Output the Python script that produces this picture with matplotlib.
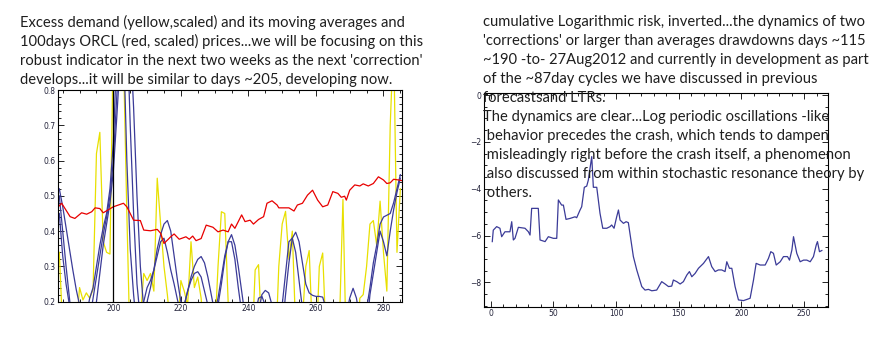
import numpy as np
import matplotlib
matplotlib.use('Agg')
import matplotlib.pyplot as plt
from matplotlib.ticker import MultipleLocator

# ---------------------------------------------------------------------------
# data
# ---------------------------------------------------------------------------

days = np.arange(184, 286)

# excess demand (yellow, scaled); values outside 0.2..0.8 are clipped in the plot
excess_demand = [
    0.34, 0.12, 0.05, 0.05, 0.05, 0.12, 0.24, 0.205, 0.225, 0.21,
    0.235, 0.62, 0.68, 0.37, 0.34, 0.335, 0.95, 0.95, 0.95, 0.90,
    0.45, 0.05, 0.05, 0.05, 0.15, 0.28, 0.26, 0.28, 0.23, 0.55,
    0.42, 0.30, 0.22, 0.12, 0.05, 0.10, 0.26, 0.23, 0.19, 0.37,
    0.24, 0.27, 0.21, 0.08, 0.05, 0.05, 0.10, 0.30, 0.455, 0.45,
    0.20, 0.05, 0.05, 0.05, 0.05, 0.05, 0.05, 0.05, 0.29, 0.305,
    0.10, 0.05, 0.05, 0.05, 0.05, 0.30, 0.42, 0.456, 0.32, 0.40,
    0.12, 0.05, 0.15, 0.30, 0.345, 0.10, 0.05, 0.30, 0.338, 0.10,
    0.05, 0.05, 0.05, 0.15, 0.49, 0.05, 0.05, 0.05, 0.05, 0.21,
    0.22, 0.30, 0.42, 0.43, 0.36, 0.485, 0.34, 0.23, 0.70, 0.95,
    0.34, 0.52,
]

# moving averages (blue)
ma_short = [
    0.45, 0.33, 0.25, 0.19, 0.12, 0.08, 0.08, 0.10, 0.16, 0.21,
    0.24, 0.30, 0.36, 0.41, 0.45, 0.52, 0.65, 0.90, 1.05, 0.95,
    0.60, 0.35, 0.22, 0.12, 0.12, 0.20, 0.24, 0.26, 0.29, 0.33,
    0.37, 0.38, 0.34, 0.29, 0.25, 0.205, 0.17, 0.19, 0.23, 0.26,
    0.28, 0.285, 0.27, 0.23, 0.19, 0.15, 0.17, 0.21, 0.27, 0.33,
    0.37, 0.37, 0.32, 0.24, 0.17, 0.12, 0.10, 0.12, 0.16, 0.21,
    0.215, 0.19, 0.14, 0.10, 0.08, 0.12, 0.19, 0.28, 0.37, 0.38,
    0.34, 0.26, 0.18, 0.12, 0.08, 0.06, 0.05, 0.05, 0.06, 0.08,
    0.10, 0.10, 0.09, 0.10, 0.12, 0.16, 0.21, 0.238, 0.21, 0.15,
    0.09, 0.12, 0.22, 0.28, 0.34, 0.40, 0.37, 0.33, 0.40, 0.46,
    0.51, 0.55,
]
ma_long = [
    0.52, 0.47, 0.41, 0.35, 0.29, 0.235, 0.19, 0.12, 0.10, 0.15,
    0.21, 0.27, 0.33, 0.39, 0.44, 0.50, 0.60, 0.78, 0.95, 1.05,
    1.00, 0.70, 0.45, 0.25, 0.15, 0.17, 0.20, 0.24, 0.29, 0.35,
    0.39, 0.42, 0.43, 0.40, 0.33, 0.26, 0.20, 0.19, 0.23, 0.27,
    0.30, 0.32, 0.328, 0.31, 0.27, 0.22, 0.17, 0.19, 0.25, 0.32,
    0.37, 0.39, 0.36, 0.30, 0.23, 0.16, 0.11, 0.10, 0.12, 0.17,
    0.22, 0.232, 0.225, 0.19, 0.12, 0.08, 0.12, 0.22, 0.31, 0.38,
    0.397, 0.37, 0.31, 0.25, 0.225, 0.218, 0.215, 0.215, 0.213, 0.18,
    0.12, 0.08, 0.06, 0.06, 0.07, 0.08, 0.09, 0.10, 0.09, 0.08,
    0.10, 0.18, 0.24, 0.31, 0.36, 0.42, 0.44, 0.445, 0.45, 0.48,
    0.52, 0.56,
]
ma_days = np.arange(184, 211)
ma_mid = [
    0.50, 0.40, 0.30, 0.21, 0.12, 0.06, 0.05, 0.05, 0.05, 0.05,
    0.12, 0.20, 0.28, 0.36, 0.42, 0.48, 0.57, 0.72, 0.88, 1.02,
    1.05, 0.95, 0.75, 0.50, 0.30, 0.18, 0.12,
]

# ORCL price (red, scaled)
price_x = [183.7, 184.7, 187.2, 188.6, 190.6, 192.1, 193.6, 194.6, 196.0, 197.0,
           200.0, 203.0, 204.0, 206.0, 208.0, 209.0, 211.0, 213.0, 214.0, 215.0,
           217.0, 218.0, 219.5, 221.5, 222.5, 223.5, 224.5, 226.0, 227.5, 229.5,
           231.0, 232.5, 234.0, 235.0, 236.0, 238.0, 239.0, 240.5, 241.5, 243.0,
           244.5, 245.5, 247.0, 248.5, 249.0, 252.0, 253.5, 254.5, 256.0, 257.5,
           259.0, 260.5, 262.0, 263.5, 265.0, 266.5, 267.5, 268.5, 269.0, 270.0,
           271.5, 273.0, 274.0, 275.5, 277.0, 278.5, 280.0, 281.0, 282.0, 283.0,
           284.5, 285.5]
price_y = [0.469, 0.479, 0.441, 0.436, 0.452, 0.448, 0.455, 0.466, 0.464, 0.452,
           0.469, 0.479, 0.469, 0.431, 0.430, 0.403, 0.401, 0.405, 0.394, 0.365,
           0.384, 0.392, 0.377, 0.384, 0.377, 0.386, 0.373, 0.379, 0.417, 0.411,
           0.398, 0.403, 0.398, 0.420, 0.408, 0.446, 0.427, 0.431, 0.420, 0.433,
           0.441, 0.479, 0.486, 0.474, 0.466, 0.466, 0.457, 0.474, 0.479, 0.502,
           0.516, 0.488, 0.469, 0.474, 0.512, 0.507, 0.496, 0.499, 0.488, 0.516,
           0.531, 0.528, 0.534, 0.528, 0.535, 0.554, 0.545, 0.535, 0.537, 0.547,
           0.545, 0.543]

marker_day = 200

# cumulative log risk, inverted (right panel)
risk_x = [1.3, 2.1, 4.8, 7.4, 8.8, 11.4, 15.4, 16.8, 18.1, 19.4,
          22.1, 27.4, 30.1, 31.4, 32.7, 36.7, 38.0, 39.4, 43.4, 46.0,
          50.0, 52.7, 54.0, 56.6, 58.0, 60.1, 63.3, 67.3, 68.6, 71.3,
          72.6, 74.7, 76.6, 77.9, 80.6, 81.9, 84.6, 87.2, 89.4, 92.6,
          95.2, 96.5, 98.4, 100.5, 101.9, 103.2, 105.9, 108.0, 109.8, 113.8,
          116.5, 120.5, 123.1, 125.8, 128.5, 132.4, 136.4, 139.1, 141.8, 144.4,
          145.7, 148.4, 151.1, 153.7, 156.4, 158.5, 160.4, 163.0, 165.7, 169.7,
          173.7, 176.3, 179.0, 181.6, 184.3, 186.9, 188.3, 190.4, 192.3, 194.9,
          197.6, 201.6, 204.3, 206.9, 209.6, 211.7, 214.9, 218.9, 221.5, 223.4,
          225.5, 227.7, 230.9, 233.5, 236.7, 238.3, 240.2, 241.5, 244.1, 246.8,
          249.5, 252.1, 254.8, 257.4, 259.6, 260.6, 262.2, 264.1]
risk_y = [-6.26, -5.77, -5.62, -5.69, -6.05, -5.84, -5.84, -5.41, -6.19, -6.12,
          -5.65, -5.69, -5.84, -5.98, -4.84, -4.84, -4.84, -6.19, -6.26, -6.05,
          -6.12, -6.12, -4.48, -4.70, -4.70, -5.31, -5.27, -5.20, -5.24, -4.91,
          -4.77, -3.94, -3.89, -3.63, -2.63, -3.94, -3.94, -5.05, -5.69, -5.69,
          -5.62, -5.55, -5.69, -5.20, -4.91, -5.34, -5.48, -5.41, -5.45, -6.90,
          -7.47, -8.18, -8.33, -8.30, -8.36, -8.33, -7.97, -8.07, -8.18, -8.16,
          -7.90, -7.97, -8.07, -7.97, -7.69, -7.54, -7.76, -7.62, -7.40, -7.19,
          -6.90, -7.33, -7.54, -7.47, -7.47, -7.54, -7.12, -7.40, -7.40, -8.18,
          -8.75, -8.78, -8.73, -8.68, -7.90, -7.19, -7.26, -7.26, -6.98, -6.69,
          -6.76, -7.26, -7.12, -6.90, -6.90, -7.05, -6.62, -6.05, -6.76, -7.12,
          -7.05, -7.05, -7.12, -6.90, -6.41, -6.26, -6.69, -6.64]

left_text = [
    "Excess demand (yellow,scaled) and its moving averages and",
    "100days ORCL (red, scaled) prices...we will be focusing on this",
    "robust indicator in the next two weeks as the next 'correction'",
    "develops...it will be similar to days ~205, developing now.",
]
right_text = [
    "cumulative Logarithmic risk, inverted...the dynamics of two",
    "'corrections' or larger than averages drawdowns days ~115",
    "~190 -to- 27Aug2012 and currently in development as part",
    "of the ~87day cycles we have discussed in previous",
    "forecastsand LTRs.",
    "The dynamics are clear...Log periodic oscillations -like",
    " behavior precedes the crash, which tends to dampen",
    " misleadingly right before the crash itself, a phenomenon",
    " also discussed from within stochastic resonance theory by",
    " others.",
]

YELLOW = '#e8e000'
BLUE = '#3b3b98'
RED = '#e80000'
TEXT = '#1e1e1e'
TICK = '#23233a'


def frame_style(ax):
    for sp in ax.spines.values():
        sp.set_linewidth(0.8)
        sp.set_color('black')
    ax.tick_params(which='both', direction='in', top=True, right=True,
                   labelsize=5.5, labelcolor=TICK, pad=2, width=0.6)
    ax.tick_params(which='major', length=4)
    ax.tick_params(which='minor', length=2)


W, H = 883, 344
fig = plt.figure(figsize=(W / 100, H / 100), dpi=100)

# ---------------------------------------------------------------------------
# left panel
# ---------------------------------------------------------------------------
ax1 = fig.add_axes([58.3 / W, 1 - 301.7 / H, 343.4 / W, 211.7 / H])
ax1.plot(days, excess_demand, color=YELLOW, lw=0.9)
ax1.plot(days, ma_short, color=BLUE, lw=0.9)
ax1.plot(ma_days, ma_mid, color=BLUE, lw=0.9)
ax1.plot(days, ma_long, color=BLUE, lw=0.9)
ax1.plot(price_x, price_y, color=RED, lw=0.9)
ax1.axvline(marker_day, color='black', lw=0.9)
ax1.set_xlim(183.7, 285.4)
ax1.set_ylim(0.2, 0.8)
ax1.xaxis.set_major_locator(MultipleLocator(20))
ax1.xaxis.set_minor_locator(MultipleLocator(5))
ax1.yaxis.set_major_locator(MultipleLocator(0.1))
ax1.yaxis.set_minor_locator(MultipleLocator(0.02))
ax1.yaxis.set_major_formatter(
    matplotlib.ticker.FuncFormatter(lambda v, p: f'{round(v, 1):g}'))
frame_style(ax1)

# ---------------------------------------------------------------------------
# right panel
# ---------------------------------------------------------------------------
ax2 = fig.add_axes([484 / W, 1 - 306.7 / H, 344 / W, 214 / H])
ax2.plot(risk_x, risk_y, color=BLUE, lw=0.9)
ax2.set_xlim(-5.3, 269)
ax2.set_ylim(-9.04, 0.1)
ax2.xaxis.set_major_locator(MultipleLocator(50))
ax2.xaxis.set_minor_locator(MultipleLocator(10))
ax2.yaxis.set_major_locator(MultipleLocator(2))
ax2.yaxis.set_minor_locator(MultipleLocator(0.5))
ax2.yaxis.set_major_formatter(
    matplotlib.ticker.FuncFormatter(lambda v, p: '0' if v == 0 else f'\u2212{abs(v):g}'))
frame_style(ax2)

# ---------------------------------------------------------------------------
# annotations
# ---------------------------------------------------------------------------
for i, line in enumerate(left_text):
    fig.text(20 / W, 1 - (26.7 + 19 * i) / H, line, fontsize=10.6,
             family='Lato', color=TEXT, va='baseline', ha='left', zorder=5)
for i, line in enumerate(right_text):
    fig.text(483 / W, 1 - (26 + 19 * i) / H, line, fontsize=10.6,
             family='Lato', color=TEXT, va='baseline', ha='left', zorder=5)

fig.savefig('out.png', dpi=100)
plt.close(fig)
